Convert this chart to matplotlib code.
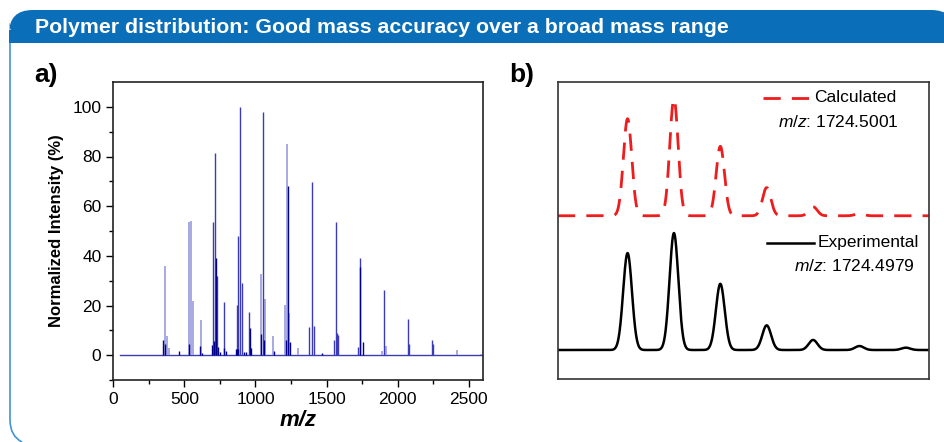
import matplotlib
matplotlib.use("Agg")
import matplotlib.pyplot as plt
import numpy as np
from matplotlib import font_manager
from matplotlib.patches import FancyBboxPatch, Rectangle, PathPatch
from matplotlib.path import Path

names = {f.name for f in font_manager.fontManager.ttflist}
NARROW = "Liberation Sans Narrow" if "Liberation Sans Narrow" in names else "Liberation Sans"
plt.rcParams['font.family'] = ['Liberation Sans', 'DejaVu Sans']
plt.rcParams['mathtext.fontset'] = 'custom'
plt.rcParams['mathtext.it'] = 'Liberation Sans:italic'
plt.rcParams['mathtext.rm'] = 'Liberation Sans'

# ---------------- data: panel a (stick spectrum) ----------------
dark_mz = [347, 361, 462, 530, 608, 627, 692, 706, 721, 735, 749, 780, 791, 866, 873, 880,
           918, 932, 960, 967, 1037, 1063, 1132, 1216, 1228, 1244, 1465, 1738, 1755]
dark_int = [6, 4.4, 1.6, 4.4, 3.8, 1, 4, 5.6, 39, 3.4, 1.3, 3, 1.6, 2.5, 2.5, 2.5,
            1.3, 1.3, 10.9, 2.7, 8.6, 6, 1.6, 6, 68, 5.4, 1, 35.5, 5.4]
mid_mz = [699, 714, 728, 782, 869, 876, 890, 904, 953, 1056, 1378, 1394, 1411, 1554, 1568,
          1573, 1580, 1723, 1735, 1904, 2070, 2077, 2239, 2246]
mid_int = [53.6, 81.4, 31.8, 21.4, 20.2, 48, 100, 29.2, 17.2, 98, 11.3, 69.6, 11.7, 6, 53.6,
           9, 8, 3.4, 39.3, 26.3, 14.6, 4.4, 6.2, 4.6]
light_mz = [366, 380, 394, 530, 547, 561, 617, 1042, 1070, 1124, 1207, 1223, 1237, 1296,
            1892, 1918, 2415, 2584]
light_int = [35.8, 7.6, 3, 53.6, 53.9, 21.7, 14, 32.6, 22.8, 7.8, 20.2, 85, 17, 3,
             1.6, 3.6, 2, 0.4]
baseline_mz = [49, 2600]

# ---------------- data: panel b (isotope profiles) ----------------
iso_mz = [1724.5, 1725.5, 1726.5, 1727.5, 1728.5, 1729.5, 1730.5]
exp_int = [82.9, 100, 56.6, 21.1, 8.6, 3.4, 2.0]
calc_int = [83, 100, 59.4, 24.1, 7.7, 2.0, 0.0]
exp_sigma = 0.095
calc_sigma = 0.09
exp_offset = 24.8
calc_offset = 139.6
calc_label = "$m/z$: 1724.5001"
exp_label = "$m/z$: 1724.4979"

W, H = 945, 442
fig = plt.figure(figsize=(W / 100, H / 100), dpi=100)

def fx(px): return px / W
def fy(py): return 1 - py / H

# ---------------- decoration: title bar & border ----------------
blue = '#0a6fb8'
bar = FancyBboxPatch((fx(9), fy(43)), fx(945 - 9 + 10), fy(10) - fy(43),
                     boxstyle="round,pad=0,rounding_size=0.025",
                     transform=fig.transFigure, facecolor=blue, edgecolor='none',
                     mutation_aspect=W / H)
fig.patches.append(bar)
fig.patches.append(Rectangle((fx(9), fy(43)), fx(945 - 9), (fy(30) - fy(43)),
                             transform=fig.transFigure, facecolor=blue, edgecolor='none'))
verts = [(fx(10), fy(43)), (fx(10), fy(420)), (fx(10), fy(436)), (fx(22), fy(442))]
codes = [Path.MOVETO, Path.LINETO, Path.CURVE3, Path.CURVE3]
fig.patches.append(PathPatch(Path(verts, codes), transform=fig.transFigure,
                             facecolor='none', edgecolor='#3f95d6', lw=1.2))
fig.text(fx(35), fy(27.5), "Polymer distribution: Good mass accuracy over a broad mass range",
         color='white', fontsize=15.3, fontweight='bold', family=NARROW, va='center', ha='left')

fig.text(fx(34), fy(75), "a)", fontsize=19, fontweight='bold', va='center', ha='left')
fig.text(fx(509), fy(75), "b)", fontsize=19, fontweight='bold', va='center', ha='left')

# ---------------- panel a ----------------
axa = fig.add_axes([fx(113.3), fy(380), fx(483 - 113.3), fy(82) - fy(380)])
axa.plot(baseline_mz, [0, 0], color='#3c3cb4', lw=1.0)
axa.vlines(light_mz, 0, light_int, color='#a3a3e0', lw=1.3)
axa.vlines(mid_mz, 0, mid_int, color='#3b3bb8', lw=1.0)
axa.vlines(dark_mz, 0, dark_int, color='#00008b', lw=1.0)
axa.set_xlim(0, 2600)
axa.set_ylim(-10, 110)
axa.set_xticks([0, 500, 1000, 1500, 2000, 2500])
axa.set_xticks([250, 750, 1250, 1750, 2250], minor=True)
axa.set_yticks([0, 20, 40, 60, 80, 100])
axa.set_yticks([-10, 10, 30, 50, 70, 90], minor=True)
axa.tick_params(which='major', direction='out', length=5, width=1.0, labelsize=12.5)
axa.tick_params(which='minor', direction='out', length=3, width=1.0)
for lab in axa.get_xticklabels() + axa.get_yticklabels():
    lab.set_family(NARROW)
for s in axa.spines.values():
    s.set_linewidth(1.2)
    s.set_color('#222222')
axa.set_ylabel("Normalized Intensity (%)", fontsize=12, fontweight='bold', labelpad=6)
axa.set_xlabel("m/z", fontsize=16, fontweight='bold', fontstyle='italic', labelpad=2)

# ---------------- panel b ----------------
axb = fig.add_axes([fx(558), fy(379), fx(929 - 558), fy(82) - fy(379)])
xx = np.linspace(1723.0, 1731.0, 2000)
exp_y = np.full_like(xx, exp_offset)
calc_y = np.full_like(xx, calc_offset)
for m, e, c in zip(iso_mz, exp_int, calc_int):
    exp_y += e * np.exp(-0.5 * ((xx - m) / exp_sigma) ** 2)
    calc_y += c * np.exp(-0.5 * ((xx - m) / calc_sigma) ** 2)
axb.plot(xx, calc_y, color='#ee1c1c', lw=2.0, dashes=(6.2, 4.0))
axb.plot(xx, exp_y, color='black', lw=1.8)
axb.set_xlim(1723.0, 1731.0)
axb.set_ylim(0, 254)
axb.set_xticks([])
axb.set_yticks([])
for s in axb.spines.values():
    s.set_linewidth(1.2)
    s.set_color('#333333')

tb = axb.transAxes
def bx(px): return (px - 558) / (929 - 558)
def by(py): return (379 - py) / (379 - 82)
axb.plot([bx(763), bx(810)], [by(98), by(98)], transform=tb, color='#ee1c1c', lw=2.0,
         dashes=(6.2, 4.0))
axb.text(bx(814), by(98), "Calculated", transform=tb, fontsize=12.5, va='center', ha='left')
axb.text(bx(778), by(122), calc_label, transform=tb, fontsize=12.5, va='center', ha='left')
axb.plot([bx(767), bx(814)], [by(243), by(243)], transform=tb, color='black', lw=1.8)
axb.text(bx(818), by(243), "Experimental", transform=tb, fontsize=12.5, va='center', ha='left')
axb.text(bx(794), by(266), exp_label, transform=tb, fontsize=12.5, va='center', ha='left')

fig.savefig("out.png", dpi=100)
